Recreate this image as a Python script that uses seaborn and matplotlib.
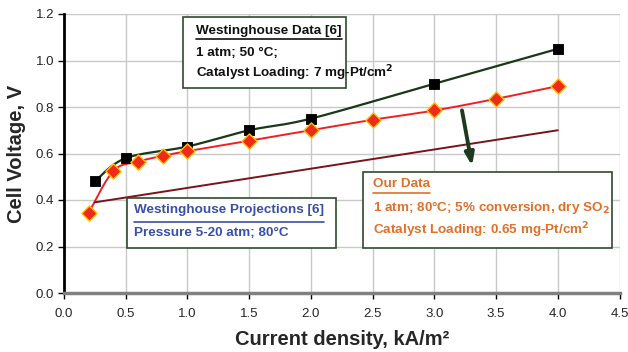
import numpy as np
import pandas as pd
import matplotlib
matplotlib.use("Agg")
import matplotlib.pyplot as plt
import seaborn as sns
from matplotlib.patches import Rectangle
from matplotlib.lines import Line2D

# ---- data ----
wh_x = [0.25, 0.5, 1.0, 1.5, 2.0, 3.0, 4.0]
wh_v = [0.48, 0.58, 0.63, 0.70, 0.75, 0.90, 1.05]
our_x = [0.2, 0.4, 0.6, 0.8, 1.0, 1.5, 2.0, 2.5, 3.0, 3.5, 4.0]
our_v = [0.345, 0.525, 0.565, 0.59, 0.61, 0.655, 0.70, 0.745, 0.785, 0.835, 0.89]
proj_x = [0.25, 4.0]
proj_v = [0.39, 0.70]
x_ticks = [0.0, 0.5, 1.0, 1.5, 2.0, 2.5, 3.0, 3.5, 4.0, 4.5]
y_ticks = [0.0, 0.2, 0.4, 0.6, 0.8, 1.0, 1.2]


def smooth(xs, ys, n=30):
    """Excel-style smoothed line (Catmull-Rom as cubic Bezier)."""
    P = np.column_stack([xs, ys]).astype(float)
    out = []
    for i in range(len(P) - 1):
        p0 = P[i - 1] if i > 0 else P[i]
        p1, p2 = P[i], P[i + 1]
        p3 = P[i + 2] if i + 2 < len(P) else P[i + 1]
        c1 = p1 + (p2 - p0) / 6.0
        c2 = p2 - (p3 - p1) / 6.0
        t = np.linspace(0, 1, n)[:, None]
        seg = ((1 - t) ** 3) * p1 + 3 * ((1 - t) ** 2) * t * c1 + 3 * (1 - t) * t ** 2 * c2 + t ** 3 * p2
        out.append(seg if i == 0 else seg[1:])
    s = np.vstack(out)
    return s[:, 0], s[:, 1]


sns.set_theme(style="whitegrid")
plt.rcParams["font.family"] = ["Liberation Sans", "DejaVu Sans"]

L, R, T, B = 64, 619.5, 14, 293
fig = plt.figure(figsize=(6.28, 3.52), dpi=100)
ax = fig.add_axes([L / 628, 1 - B / 352, (R - L) / 628, (B - T) / 352])

wx, wy = smooth(wh_x, wh_v)
ox, oy = smooth(our_x, our_v)
sns.lineplot(x=wx, y=wy, ax=ax, color="#183818", lw=1.6, sort=False, estimator=None)
sns.lineplot(x=ox, y=oy, ax=ax, color="#F02020", lw=1.4, sort=False, estimator=None)
sns.lineplot(x=proj_x, y=proj_v, ax=ax, color="#7A1418", lw=1.4, sort=False, estimator=None)
sns.scatterplot(x=wh_x, y=wh_v, ax=ax, marker="s", s=60, color="black", edgecolor="black", zorder=5)
sns.scatterplot(x=our_x, y=our_v, ax=ax, marker="D", s=60, color="#F02A1A", edgecolor="#FFC000",
                linewidth=1.0, zorder=6)

ax.annotate("", xy=(3.31, 0.535), xytext=(3.22, 0.797),
            arrowprops=dict(arrowstyle="-|>,head_length=0.6,head_width=0.22", color="#1E3A1E", lw=2.8))

ax.set_xlim(0, 4.5)
ax.set_ylim(0, 1.2)
ax.set_xticks(x_ticks)
ax.set_yticks(y_ticks)
ax.set_xticklabels([f"{v:.1f}" for v in x_ticks], fontsize=9.5)
ax.set_yticklabels([f"{v:.1f}" for v in y_ticks], fontsize=9.5)
ax.grid(True, color="#C8C8C8", lw=1.0)
ax.set_facecolor("white")
for s in ["top", "right"]:
    ax.spines[s].set_visible(False)
ax.spines["left"].set_color("black")
ax.spines["left"].set_linewidth(2.0)
ax.spines["bottom"].set_color("#808080")
ax.spines["bottom"].set_linewidth(2.5)
ax.tick_params(axis="x", which="both", direction="out", length=4, width=1, color="black",
               bottom=True, pad=7)
ax.tick_params(axis="y", which="both", direction="out", length=4, width=1, color="black",
               left=True, pad=3)
ax.set_xlabel("Current density, kA/m²", fontsize=14.5, fontweight="bold", labelpad=7)
ax.set_ylabel("Cell Voltage, V", fontsize=14.5, fontweight="bold", labelpad=7)


def px2ax(px, py):
    return (px - L) / (R - L), (B - py) / (B - T)


def box(x0, y0, x1, y1):
    a, b = px2ax(x0, y1)
    c, d = px2ax(x1, y0)
    ax.add_patch(Rectangle((a, b), c - a, d - b, transform=ax.transAxes, facecolor="white",
                           edgecolor="#2E4A2E", lw=1.2, zorder=7))


def txt(px, py, s, color):
    x, y = px2ax(px, py)
    return ax.text(x, y, s, transform=ax.transAxes, fontsize=9.7, fontweight="bold", color=color,
                   ha="left", va="center", zorder=8)


box(183, 17, 346, 88)
t1 = txt(196, 31, "Westinghouse Data [6]", "#111111")
txt(196, 53, "1 atm; 50 °C;", "#111111")
txt(196, 73, "Catalyst Loading: 7 mg-Pt/cm$^{\\mathbf{2}}$", "#111111")

box(127, 198, 336, 248)
t2 = txt(134, 210, "Westinghouse Projections [6]", "#3A4FA8")
txt(134, 233, "Pressure 5-20 atm; 80°C", "#3A4FA8")

box(363, 172, 612, 248)
t3 = txt(373, 184, "Our Data", "#E0702A")
txt(373, 207, "1 atm; 80°C; 5% conversion, dry SO$_{\\mathbf{2}}$", "#E0702A")
txt(373, 230, "Catalyst Loading: 0.65 mg-Pt/cm$^{\\mathbf{2}}$", "#E0702A")

fig.canvas.draw()
r = fig.canvas.get_renderer()
for t, col, uy in [(t1, "#111111", 38.5), (t2, "#3A4FA8", 222), (t3, "#E0702A", 192.5)]:
    bb = t.get_window_extent(r)
    W, H = fig.bbox.width, fig.bbox.height
    yy = (352 - uy) / 352
    fig.add_artist(Line2D([bb.x0 / W, bb.x1 / W], [yy, yy],
                          transform=fig.transFigure, color=col, lw=1.2, zorder=9))

fig.savefig("out.png", dpi=100, facecolor="white")
